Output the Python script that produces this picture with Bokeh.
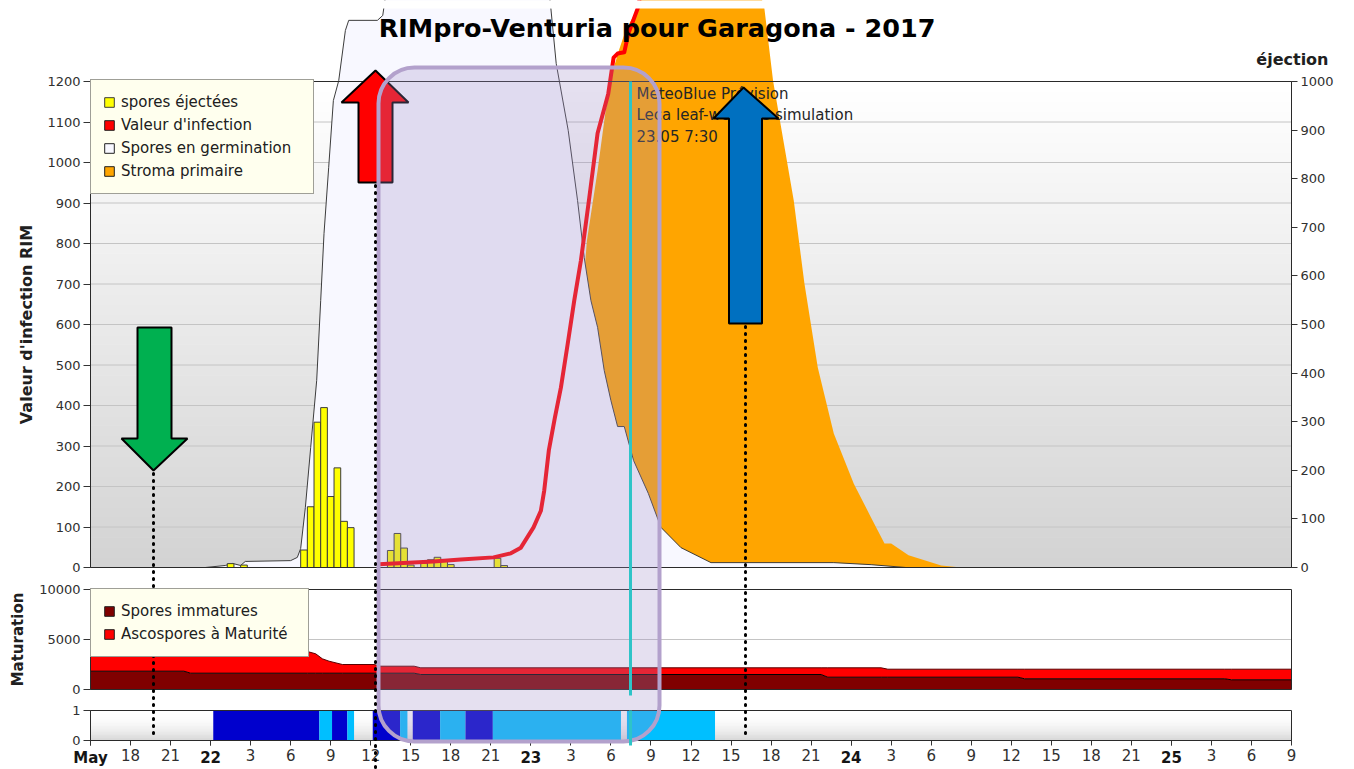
import math
import numpy as np
from bokeh.plotting import figure
from bokeh.models import (Range1d, LinearAxis, FixedTicker, Legend, LegendItem,
                          Label, BoxAnnotation, PolyAnnotation, Arrow)
from bokeh.embed import file_html
from bokeh.resources import INLINE

# ------------------------------------------------------------------ data
# time = hours since 22 May 2017 00:00 (axis: 21 May 15:00 -> 25 May 09:00)
x_ticks = list(range(-9, 82, 3))
day_labels = {-9: "May", 0: "22", 24: "23", 48: "24", 72: "25"}

# spores éjectées (right axis "éjection")
spore_h = [1.5, 2.5, 7.0, 7.5, 8.0, 8.5, 9.0, 9.5, 10.0, 10.5,
           13.5, 14.0, 14.5, 15.0, 16.0, 16.5, 17.0, 17.5, 18.0, 21.5, 22.0]
spore_v = [8, 5, 36, 125, 299, 329, 146, 205, 95, 82,
           35, 70, 40, 5, 9, 16, 21, 16, 6, 19, 4]

# Valeur d'infection RIM
rim_h = [12.6, 14.8, 16.7, 18.75, 21.2, 22.5, 23.25, 24.2, 24.75, 25.0, 25.35, 25.8,
         26.25, 26.75, 27.25, 27.75, 28.35, 29.0, 29.8, 30.2, 30.5, 31.0, 31.3, 32.0, 32.6]
rim_v = [8, 12, 15, 20, 25, 35, 49, 99, 140, 190, 290, 370,
         444, 550, 659, 758, 906, 1072, 1170, 1259, 1269, 1272, 1318, 1380, 1474]

# Spores en germination
germ_h = [-0.4, 1.1, 1.65, 2.25, 2.6, 6.0, 6.5, 6.75, 7.1, 7.5, 7.95, 8.25, 8.5, 8.85,
          9.2, 9.6, 10.1, 10.35, 12.5, 12.9, 13.5, 25.1, 25.5, 25.9, 26.8, 27.5, 28.0,
          28.5, 29.0, 29.5, 30.0, 30.5, 31.0, 31.7, 32.8, 33.75, 35.25, 37.5, 46.7, 49.5, 52.1]
germ_v = [0, 5, 10, 5, 15, 17, 25, 47, 148, 296, 462, 659, 825, 988,
          1153, 1202, 1326, 1351, 1351, 1363, 1500, 1500, 1380, 1244, 1079, 906, 765,
          659, 593, 486, 412, 348, 348, 264, 183, 99, 49, 12, 12, 7, 0]

# Stroma primaire
stroma_h = [26.25, 28.2, 29.0, 29.6, 30.15, 30.6, 31.1, 32.0, 33.0, 40.5, 41.5, 42.15,
            43.7, 44.5, 45.5, 46.7, 48.2, 49.5, 50.5, 51.0, 52.3, 54.75, 56.25]
stroma_v = [0, 807, 980, 1128, 1227, 1277, 1326, 1380, 1500, 1500, 1380, 1202,
            906, 701, 494, 331, 207, 123, 59, 59, 30, 5, 0]

# Maturation
mat_h = [-9, -2.0, -1.5, 7.25, 7.875, 8.375, 8.875, 9.875, 12.25, 12.75, 15.25, 15.75,
         45.75, 46.25, 50.25, 50.75, 60.5, 61.0, 76.0, 76.5, 81]
immature = [1830, 1830, 1630, 1630, 1630, 1630, 1630, 1630, 1630, 1630, 1630, 1500,
            1500, 1230, 1230, 1230, 1230, 1070, 1070, 970, 970]
mature = [1970, 1970, 2170, 2170, 1940, 1440, 1200, 870, 870, 700, 700, 670,
          670, 940, 940, 800, 800, 960, 960, 1060, 1060]

# leaf-wetness strip
wet_start = [0.2, 8.15, 9.1, 10.25, 12.15, 14.2, 15.15, 17.2, 19.1, 21.15, 31.2]
wet_end = [8.15, 9.1, 10.25, 10.75, 14.2, 14.75, 17.2, 19.1, 21.15, 30.75, 37.8]
wet_class = ["d", "l", "d", "l", "d", "l", "d", "l", "d", "l", "l"]

# ------------------------------------------------------------------ geometry (page px)
W, H = 1354, 769
FR_L, FR_R = 90, 1291          # plot panels left / right edge
MAIN_0, MAIN_TOP = 567, 81     # main panel: y of 0 and of 1200
MAT_0, MAT_TOP = 689, 589      # maturation panel: 0 and 10000
STRIP_0, STRIP_1 = 740, 710    # wetness strip: 0 and 1
CLIP_TOP = 8
X0, X1 = -9, 81
FONT = "DejaVu Sans"


def hx(px):
    return X0 + (px - FR_L) * (X1 - X0) / (FR_R - FR_L)


def yv(py):
    return (MAIN_0 - py) * 1200.0 / (MAIN_0 - MAIN_TOP)


p = figure(width=W, height=H, x_range=Range1d(hx(0), hx(W)), y_range=Range1d(yv(H), yv(0)),
           output_backend="svg", toolbar_location=None, title=None,
           min_border_left=0, min_border_right=0, min_border_top=0, min_border_bottom=0,
           background_fill_color="white", border_fill_color="white")
p.outline_line_color = None
p.xgrid.visible = False
p.ygrid.visible = False

ej_k = 1000.0 / 1200.0
mat_k = 10000.0 / (MAT_0 - MAT_TOP)
strip_k = 1.0 / (STRIP_0 - STRIP_1)
p.extra_y_ranges = {
    "ej": Range1d(yv(H) * ej_k, yv(0) * ej_k),
    "mat": Range1d(-(H - MAT_0) * mat_k, MAT_0 * mat_k),
    "strip": Range1d(-(H - STRIP_0) * strip_k, STRIP_0 * strip_k),
}

# ---- backgrounds
nb = 48
edges = np.linspace(0, 1200, nb + 1)
bcols = []
for i in range(nb):
    c = int(round(211 + 44 * ((edges[i] + edges[i + 1]) / 2) / 1200))
    bcols.append("#%02x%02x%02x" % (c, c, c))
p.quad(left=X0, right=X1, bottom=edges[:-1], top=edges[1:], fill_color=bcols, line_color=bcols)
grid_v = list(range(100, 1200, 100))
p.segment(x0=X0, x1=X1, y0=grid_v, y1=grid_v, line_color="#c4c4c4", line_width=1)

ns = 20
sedges = np.linspace(0, 1, ns + 1)
scols = []
for i in range(ns):
    s = (sedges[i] + sedges[i + 1]) / 2
    c = int(round(255 - 42 * (1 - s) ** 2))
    scols.append("#%02x%02x%02x" % (c, c, c))
p.quad(left=X0, right=X1, bottom=sedges[:-1], top=sedges[1:], fill_color=scols,
       line_color=scols, y_range_name="strip")

# ---- main panel series
p.varea(x=stroma_h, y1=0, y2=stroma_v, fill_color="#ffa500")
p.varea(x=germ_h, y1=0, y2=germ_v, fill_color="#f8f8ff")
p.line(germ_h, germ_v, line_color="#3c3c3c", line_width=1)
bars = p.vbar(x=spore_h, width=0.5, top=spore_v, bottom=0, y_range_name="ej",
              fill_color="#ffff00", line_color="#3c3c3c", line_width=1)
p.line(rim_h, rim_v, line_color="#ff0000", line_width=4, line_join="round")

# ---- maturation panel
p.segment(x0=X0, x1=X1, y0=5000, y1=5000, line_color="#c4c4c4", y_range_name="mat")
total = (np.array(immature) + np.array(mature)).tolist()
p.varea(x=mat_h, y1=0, y2=immature, fill_color="#800000", y_range_name="mat")
p.varea(x=mat_h, y1=immature, y2=total, fill_color="#ff0000", y_range_name="mat")
p.line(mat_h, immature, line_color="#000000", line_width=1, y_range_name="mat")
p.line(mat_h, total, line_color="#5a0000", line_width=1, y_range_name="mat")

# ---- wetness strip
wet_colors = ["#0000cd" if c == "d" else "#00bfff" for c in wet_class]
p.quad(left=wet_start, right=wet_end, bottom=0, top=1, fill_color=wet_colors,
       line_color=None, y_range_name="strip")

# curves leave the chart area upwards: the original clips them a few px below the top
p.add_layout(BoxAnnotation(left=hx(0), right=hx(W), bottom=yv(CLIP_TOP), top=yv(0),
                           fill_color="white", fill_alpha=1.0, line_color=None, level="annotation"))

# ---- panel frames
for b, t in [(0, 1200), (yv(MAT_0), yv(MAT_TOP)), (yv(STRIP_0), yv(STRIP_1))]:
    p.add_layout(BoxAnnotation(left=X0, right=X1, bottom=b, top=t, fill_color=None,
                               line_color="#2a2a2a", line_alpha=1.0, line_width=1,
                               level="annotation"))

# ---- axes
tick_style = dict(major_tick_in=0, major_tick_line_color="#333333", minor_tick_line_color=None,
                  major_label_text_font=FONT, major_label_text_color="#303030")
axis_title = dict(axis_label_text_font=FONT, axis_label_text_font_style="bold",
                  axis_label_text_color="#202020")

ax = p.yaxis[0]
ax.fixed_location = X0
ax.bounds = (0, 1200)
ax.ticker = FixedTicker(ticks=list(range(0, 1201, 100)), minor_ticks=[])
ax.axis_line_color = "#2a2a2a"
ax.major_tick_out = 7
ax.major_label_standoff = 3
ax.major_label_text_font_size = "13px"
ax.axis_label = "Valeur d'infection RIM"
ax.axis_label_text_font_size = "16px"
ax.axis_label_standoff = 8
for k, v in {**tick_style, **axis_title}.items():
    setattr(ax, k, v)

mat_ax = LinearAxis(y_range_name="mat", fixed_location=X0, bounds=(0, 10000),
                    ticker=FixedTicker(ticks=[0, 5000, 10000], minor_ticks=[]),
                    axis_line_color="#2a2a2a", major_tick_out=7, major_label_standoff=3,
                    major_label_text_font_size="13px", axis_label="Maturation",
                    axis_label_text_font_size="15px", axis_label_standoff=9,
                    **tick_style, **axis_title)
p.add_layout(mat_ax, "left")

strip_ax = LinearAxis(y_range_name="strip", fixed_location=X0, bounds=(0, 1),
                      ticker=FixedTicker(ticks=[0, 1], minor_ticks=[]),
                      axis_line_color="#2a2a2a", major_tick_out=7, major_label_standoff=3,
                      major_label_text_font_size="13px", **tick_style)
p.add_layout(strip_ax, "left")

rax = LinearAxis(y_range_name="ej", fixed_location=X1, bounds=(0, 1000),
                 ticker=FixedTicker(ticks=list(range(0, 1001, 100)), minor_ticks=[]),
                 axis_line_color="#2a2a2a", major_tick_out=6, major_label_standoff=3,
                 major_label_text_font_size="13px", **tick_style)
p.add_layout(rax, "right")

xax = p.xaxis[0]
xax.fixed_location = yv(STRIP_0)
xax.bounds = (X0, X1)
xax.ticker = FixedTicker(ticks=x_ticks, minor_ticks=[])
xax.major_label_overrides = {t: ("" if t in day_labels else str(t % 24)) for t in x_ticks}
xax.axis_line_color = "#2a2a2a"
xax.major_tick_out = 5
xax.major_label_standoff = 3
xax.major_label_text_font_size = "15px"
for k, v in tick_style.items():
    setattr(xax, k, v)

day_ax = LinearAxis(fixed_location=yv(STRIP_0), bounds=(X0, X1),
                    ticker=FixedTicker(ticks=list(day_labels.keys()), minor_ticks=[]),
                    major_label_overrides=day_labels, axis_line_color=None,
                    major_tick_out=5, major_label_standoff=3, major_label_text_font_size="15px",
                    major_label_text_font_style="bold", **tick_style)
day_ax.major_label_text_color = "#151515"
p.add_layout(day_ax, "below")

# ---- legends
def dummy(color):
    return p.quad(left=[hx(-60)], right=[hx(-50)], top=[1], bottom=[0],
                  fill_color=color, line_color="#202020")


leg_style = dict(glyph_width=12, glyph_height=12, label_standoff=6, padding=12, spacing=3,
                 label_height=20, margin=0, border_line_color="#404040", border_line_width=1,
                 background_fill_color="#ffffee", background_fill_alpha=1.0,
                 label_text_font=FONT, label_text_font_size="15px", label_text_color="#202020")
leg1 = Legend(items=[LegendItem(label="spores éjectées", renderers=[bars]),
                     LegendItem(label="Valeur d'infection", renderers=[dummy("#ff0000")]),
                     LegendItem(label="Spores en germination", renderers=[dummy("#f8f8ff")]),
                     LegendItem(label="Stroma primaire", renderers=[dummy("#ffa500")])],
              location=(FR_L, H - 194), label_width=180, **leg_style)
leg2 = Legend(items=[LegendItem(label="Spores immatures", renderers=[dummy("#800000")]),
                     LegendItem(label="Ascospores à Maturité", renderers=[dummy("#ff0000")])],
              location=(FR_L, H - 657), label_width=175, **leg_style)
p.add_layout(leg1)
p.add_layout(leg2)

# ---- texts
p.add_layout(Label(x=hx(1328), y=yv(59), text="éjection", text_align="right",
                   text_baseline="alphabetic", text_font=FONT, text_font_style="bold",
                   text_font_size="16px", text_color="#202020"))
for i, line in enumerate(["MeteoBlue Prévision", "Leca leaf-wetness simulation", "23.05 7:30"]):
    p.add_layout(Label(x=hx(636), y=yv(93 + 21.7 * i), text=line, text_align="left",
                       text_baseline="alphabetic", text_font=FONT, text_font_size="15px",
                       text_color="#252525"))

# ---- annotation overlays (arrows, highlight box, markers)
def poly(pts, color, level):
    return PolyAnnotation(xs=[hx(a) for a, b in pts], ys=[yv(b) for a, b in pts],
                          fill_color=color, fill_alpha=1.0, line_color="black",
                          line_alpha=1.0, line_width=2, level=level)


red_arrow = [(375, 70), (408, 102), (392, 102), (392, 182), (358, 182), (358, 102), (341, 102)]
green_arrow = [(137, 327), (171, 327), (171, 438), (187, 438), (153, 470), (121, 438), (137, 438)]
blue_arrow = [(743, 87), (778, 118), (761.5, 118), (761.5, 323), (728.5, 323), (728.5, 118), (713, 118)]
p.add_layout(poly(red_arrow, "#ff0000", "annotation"))

p.add_layout(BoxAnnotation(left=hx(378), right=hx(659), top=yv(67), bottom=yv(741),
                           fill_color="#a08cc8", fill_alpha=0.27, line_color="#b3a1cc",
                           line_alpha=1.0, line_width=4, border_radius=36, level="overlay"))

p.add_layout(poly(green_arrow, "#00b050", "overlay"))
p.add_layout(poly(blue_arrow, "#0070c0", "overlay"))


def vline(px, y0, y1, color, width, dash=None):
    kw = dict(end=None, x_start=hx(px), y_start=yv(y0), x_end=hx(px), y_end=yv(y1),
              line_color=color, line_width=width, level="overlay")
    if dash:
        kw.update(line_dash=dash, line_cap="round")
    return Arrow(**kw)


p.add_layout(vline(153, 473, 737, "black", 3, "1 6"))
p.add_layout(vline(375, 185, 770, "black", 3, "1 6"))
p.add_layout(vline(745, 326, 735, "black", 3, "1 6"))
p.add_layout(vline(630, 81, 695, "#2ec4c8", 3))
p.add_layout(vline(630, 710, 745, "#2ec4c8", 3))

p.add_layout(Label(x=hx(661), y=yv(27), text="RIMpro-Venturia pour  Garagona - 2017",
                   text_align="center", text_baseline="alphabetic", text_font=FONT,
                   text_font_style="bold", text_font_size="25.5px", text_color="#000000",
                   level="overlay"))

open("out.html", "w").write(file_html(p, INLINE))
